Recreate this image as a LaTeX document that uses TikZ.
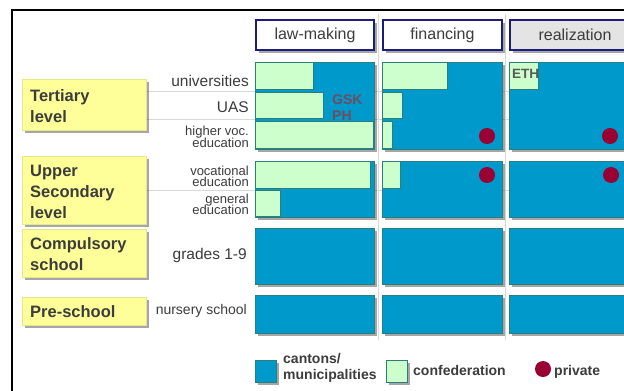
\documentclass[tikz,border=0pt]{standalone}
\usepackage{fontspec}
\setmainfont{Liberation Sans}
\usetikzlibrary{shadows}
\definecolor{cblue}{HTML}{0099CC}
\definecolor{cteal}{HTML}{2A7F7A}
\definecolor{cgreen}{HTML}{CCFFCC}
\definecolor{cred}{HTML}{990033}
\definecolor{cyellow}{HTML}{FFFF99}
\definecolor{cyedge}{HTML}{E6E68A}
\definecolor{navy}{HTML}{1C1C7C}
\definecolor{tgrey}{HTML}{3C3C3C}
\definecolor{gskc}{HTML}{6E4E5E}
\definecolor{hgrey}{HTML}{E4E4E4}
\definecolor{gline}{HTML}{D8D8D8}
\begin{document}
\begin{tikzpicture}[x=1pt,y=-1pt,
  rbox/.style={rectangle, anchor=north west, inner sep=0pt, outer sep=0pt},
  shad/.style={drop shadow={shadow xshift=2.5pt, shadow yshift=-2.5pt, fill=black, opacity=0.35}},
  bluebox/.style={rbox, shad, fill=cblue, draw=cteal, line width=1.6pt},
  greenbox/.style={rbox, fill=cgreen, draw=cteal, line width=1.3pt},
  headbox/.style={rbox, shad, fill=white, draw=navy, line width=2.6pt, text=tgrey, font=\fontsize{16}{18}\selectfont},
  yellowbox/.style={rbox, shad, fill=cyellow, draw=cyedge, line width=0.6pt},
  ylabel/.style={anchor=west, align=left, inner sep=0pt, text=tgrey, font=\bfseries\fontsize{16.5}{21}\selectfont},
  sublabel/.style={anchor=base east, inner sep=0pt, text=tgrey, font=\fontsize{15.5}{17}\selectfont},
  smalllabel/.style={anchor=base east, inner sep=0pt, text=tgrey, font=\fontsize{13}{11}\selectfont},
  reddot/.style={circle, fill=cred, inner sep=0pt, minimum size=16pt},
  legtext/.style={anchor=base west, inner sep=0pt, align=left, text=tgrey, font=\bfseries\fontsize{14}{16}\selectfont},
  gridline/.style={draw=gline, line width=0.8pt}
]
\useasboundingbox (0,0) rectangle (624,391);
\clip (0,0) rectangle (624,391);
\fill[white] (0,0) rectangle (624,391);
% frame
\draw[black, line width=2pt] (12,392) -- (12,10) -- (630,10);

% grid lines
\coordinate (gl1a) at (147,91);  \coordinate (gl1b) at (624,91);
\coordinate (gl2a) at (147,119); \coordinate (gl2b) at (624,119);
\coordinate (gl3a) at (147,190); \coordinate (gl3b) at (624,190);
\coordinate (gv1a) at (378.5,14); \coordinate (gv1b) at (378.5,340);
\coordinate (gv2a) at (505.5,14); \coordinate (gv2b) at (505.5,340);
\path[gridline] (gl1a) -- (gl1b) (gl2a) -- (gl2b) (gl3a) -- (gl3b)
  (gv1a) -- (gv1b) (gv2a) -- (gv2b);

% headers
\node[headbox, minimum width=118pt, minimum height=30pt] (hL) at (256,20) {law-making};
\node[headbox, minimum width=119pt, minimum height=30pt] (hF) at (383,20) {financing};
\node[headbox, fill=hgrey, minimum width=130pt, minimum height=30pt] (hR) at (510,20) {realization};

% blue boxes
\node[bluebox, minimum width=119pt, minimum height=87pt] (bT1) at (255.5,62.5) {};
\node[bluebox, minimum width=120pt, minimum height=87pt] (bT2) at (382.5,62.5) {};
\node[bluebox, minimum width=130pt, minimum height=87pt] (bT3) at (509.5,62.5) {};
\node[bluebox, minimum width=119pt, minimum height=56pt] (bU1) at (255.5,161.5) {};
\node[bluebox, minimum width=120pt, minimum height=56pt] (bU2) at (382.5,161.5) {};
\node[bluebox, minimum width=130pt, minimum height=56pt] (bU3) at (509.5,161.5) {};
\node[bluebox, minimum width=119pt, minimum height=56pt] (bC1) at (255.5,228.5) {};
\node[bluebox, minimum width=120pt, minimum height=56pt] (bC2) at (382.5,228.5) {};
\node[bluebox, minimum width=130pt, minimum height=56pt] (bC3) at (509.5,228.5) {};
\node[bluebox, minimum width=119pt, minimum height=38pt] (bP1) at (255.5,295.5) {};
\node[bluebox, minimum width=120pt, minimum height=38pt] (bP2) at (382.5,295.5) {};
\node[bluebox, minimum width=130pt, minimum height=38pt] (bP3) at (509.5,295.5) {};

% green bars
\node[greenbox, minimum width=58pt, minimum height=27pt] (gT1a) at (255.5,62.5) {};
\node[greenbox, minimum width=68pt, minimum height=26pt] (gT1b) at (255.5,92.5) {};
\node[greenbox, minimum width=118pt, minimum height=27pt] (gT1c) at (255.5,121.5) {};
\node[greenbox, minimum width=65pt, minimum height=27pt] (gT2a) at (382.5,62.5) {};
\node[greenbox, minimum width=20pt, minimum height=26pt] (gT2b) at (382.5,92.5) {};
\node[greenbox, minimum width=10pt, minimum height=27pt] (gT2c) at (382.5,121.5) {};
\node[greenbox, minimum width=29pt, minimum height=27pt] (gT3a) at (509.5,62.5) {};
\node[greenbox, minimum width=115pt, minimum height=27pt] (gU1a) at (255.5,161.5) {};
\node[greenbox, minimum width=25pt, minimum height=26pt] (gU1b) at (255.5,190.5) {};
\node[greenbox, minimum width=18pt, minimum height=27pt] (gU2a) at (382.5,161.5) {};

% texts inside boxes
\node[anchor=north west, inner sep=0pt, align=left, text=gskc, font=\bfseries\fontsize{14}{16}\selectfont] (gsk) at (332,94.5) {GSK\\PH};
\node[anchor=north west, inner sep=0pt, text=tgrey!85, font=\bfseries\fontsize{13.5}{14}\selectfont] (eth) at (512,69.5) {ETH};

% private dots
\node[reddot] (dT2) at (487,136) {};
\node[reddot] (dT3) at (610,136) {};
\node[reddot] (dU2) at (487,175) {};
\node[reddot] (dU3) at (611,175) {};

% yellow level labels
\node[yellowbox, minimum width=124pt, minimum height=51pt] (yT) at (22.5,79.5) {};
\node[yellowbox, minimum width=124pt, minimum height=68pt] (yU) at (22.5,156.5) {};
\node[yellowbox, minimum width=124pt, minimum height=48pt] (yC) at (22.5,229.5) {};
\node[yellowbox, minimum width=124pt, minimum height=28pt] (yP) at (22.5,297.5) {};
\node[ylabel] (tT) at (30,106) {Tertiary\\level};
\node[ylabel] (tU) at (30,192) {Upper\\Secondary\\level};
\node[ylabel] (tC) at (30,254) {Compulsory\\school};
\node[ylabel] (tP) at (30,312) {Pre-school};

% sub labels
\node[sublabel] (s1) at (249,86) {universities};
\node[sublabel] (s2) at (249,112.5) {UAS};
\node[smalllabel] (s3a) at (249,135.5) {higher voc.};
\node[smalllabel] (s3b) at (249,147.5) {education};
\node[smalllabel] (s4a) at (249,175) {vocational};
\node[smalllabel] (s4b) at (249,186.5) {education};
\node[smalllabel] (s5a) at (249,203) {general};
\node[smalllabel] (s5b) at (249,214.5) {education};
\node[sublabel] (s6) at (247,259) {grades 1-9};
\node[smalllabel, font=\fontsize{14}{15}\selectfont] (s7) at (247,314) {nursery school};

% legend
\node[bluebox, minimum width=21pt, minimum height=22pt] (lb) at (255.5,360.5) {};
\node[legtext, anchor=west] (lbt) at (283,368) {cantons/\\municipalities};
\node[greenbox, shad, minimum width=21pt, minimum height=22pt] (lg) at (386.5,360.5) {};
\node[legtext] (lgt) at (413,375) {confederation};
\node[reddot] (lr) at (543,369) {};
\node[legtext] (lrt) at (554,375) {private};
\end{tikzpicture}
\end{document}
